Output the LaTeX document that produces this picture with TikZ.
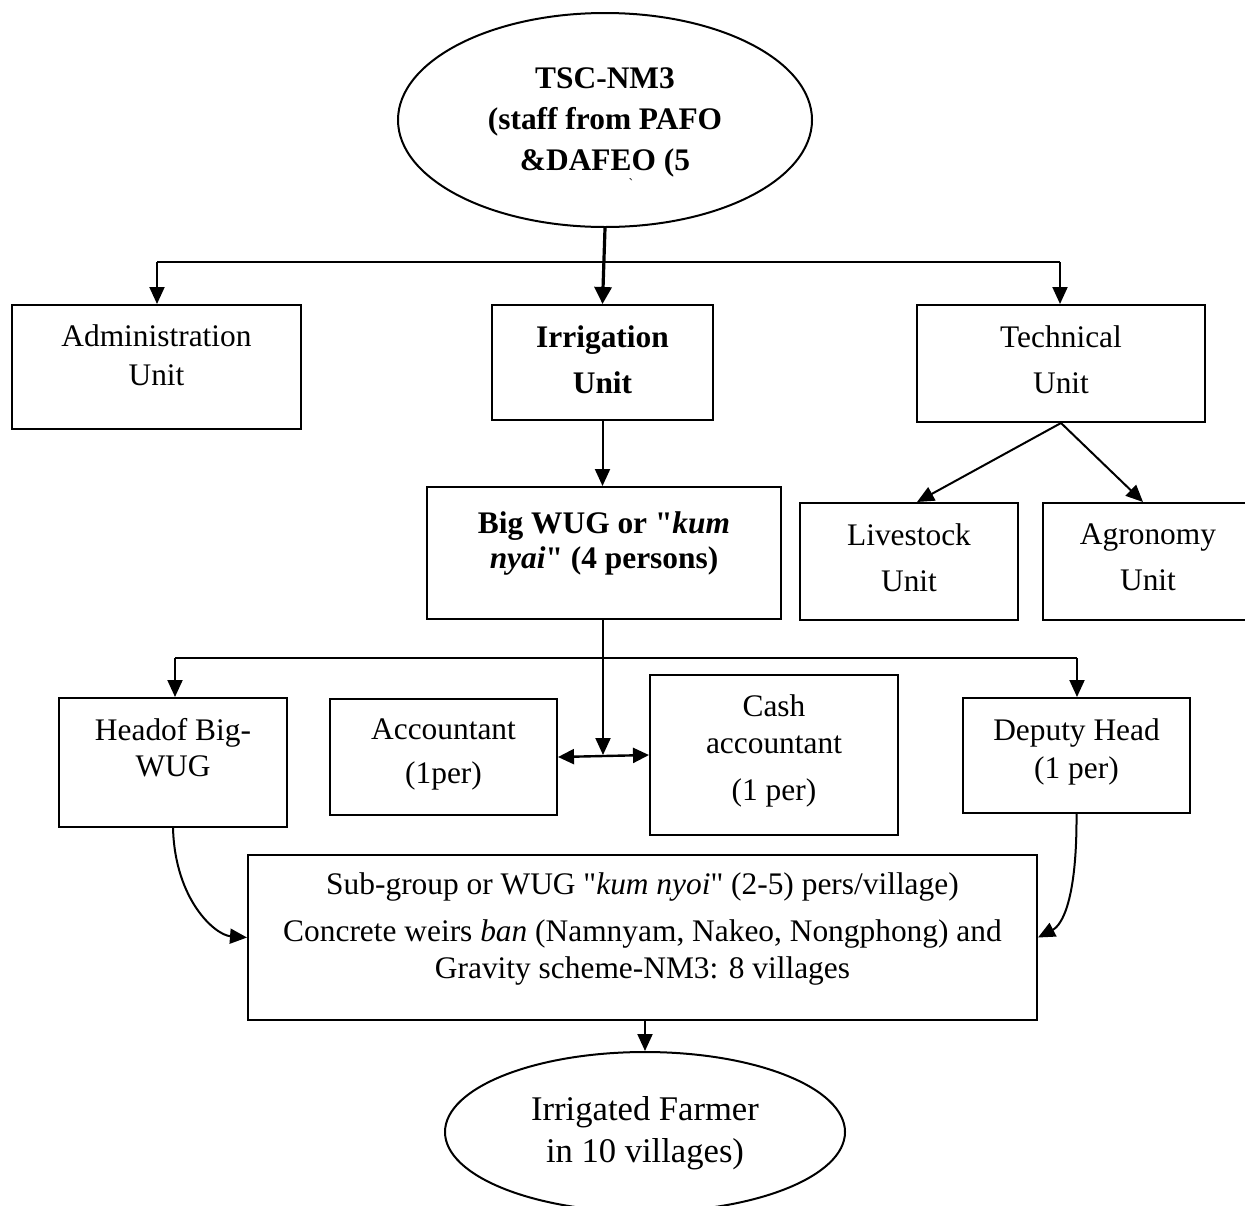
\documentclass[tikz,border=0pt]{standalone}
\usepackage{fontspec}
\setmainfont{Liberation Serif}[Ligatures=TeXOff]
\usetikzlibrary{shapes.geometric,arrows.meta,calc}
\newcommand\fsz[1]{\fontsize{15.7}{#1}\selectfont}
\newcommand\dq{\symbol{34}}
\begin{document}
\begin{tikzpicture}[
  x=0.5pt, y=-0.5pt,
  box/.style={draw, line width=1pt, inner sep=0pt, rectangle},
  oval/.style={draw, line width=1pt, inner sep=0pt, ellipse},
  txt/.style={align=center, inner sep=0pt},
  link/.style={line width=1pt},
  arr/.style={line width=1pt, -{Triangle[length=8.5pt,width=7.5pt]}},
  thickarr/.style={line width=1.6pt, -{Triangle[length=8.5pt,width=8.5pt]}},
  darr/.style={line width=1.2pt, {Triangle[length=8pt,width=7.5pt]}-{Triangle[length=8pt,width=7.5pt]}}
]
\useasboundingbox (0,0) rectangle (1245,1205);

% top ellipse
\node[oval, minimum width=207pt, minimum height=107pt,
  label={[txt, font=\fsz{20.5}\bfseries, yshift=-1pt]center:{TSC-NM3\\(staff from PAFO\\\&DAFEO (5}}]
  (tsc) at (605,120) {};
\node[inner sep=0pt, font=\fontsize{7}{8}\selectfont] (tick) at (631,184) {\symbol{96}};

% first level
\node[box, minimum width=144.5pt, minimum height=62pt,
  label={[txt, font=\fsz{19.5}, yshift=6pt]center:{Administration\\Unit}}]
  (admin) at (156.5,367) {};
\node[box, minimum width=110.5pt, minimum height=57.5pt,
  label={[txt, font=\fsz{23}\bfseries, yshift=1.5pt]center:{Irrigation\\Unit}}]
  (irrig) at (602.5,362.5) {};
\node[box, minimum width=144pt, minimum height=58.5pt,
  label={[txt, font=\fsz{23}, yshift=2pt]center:{Technical\\Unit}}]
  (tech) at (1061,363.5) {};

% second level
\node[box, minimum width=177pt, minimum height=66pt,
  label={[txt, font=\fsz{17.5}\bfseries, yshift=5pt]center:{Big WUG or \dq\textit{kum}\\\textit{nyai}\dq\ (4 persons)}}]
  (bigwug) at (604,553) {};
\node[box, minimum width=109pt, minimum height=58.5pt,
  label={[txt, font=\fsz{23}, yshift=2pt]center:{Livestock\\Unit}}]
  (live) at (909,561.5) {};
\node[box, minimum width=105pt, minimum height=58.5pt,
  label={[txt, font=\fsz{23}, yshift=2pt]center:{Agronomy\\Unit}}]
  (agro) at (1148,561.5) {};

% third level
\node[box, minimum width=114pt, minimum height=64.5pt,
  label={[txt, font=\fsz{18}, yshift=7.5pt]center:{Headof Big-\\WUG}}]
  (head) at (173,762.5) {};
\node[box, minimum width=113.5pt, minimum height=58pt,
  label={[txt, font=\fsz{22}, yshift=1.5pt]center:{Accountant\\(1per)}}]
  (acct) at (443.5,757) {};
\node[box, minimum width=124pt, minimum height=80pt,
  label={[txt, font=\fsz{18.5}, yshift=2pt]center:{Cash\\accountant\\[5pt](1 per)}}]
  (cash) at (774,755) {};
\node[box, minimum width=113.5pt, minimum height=57.5pt,
  label={[txt, font=\fsz{19}, yshift=2pt]center:{Deputy Head\\(1 per)}}]
  (deputy) at (1076.5,755.5) {};

% sub-group
\node[box, minimum width=394.5pt, minimum height=82.5pt,
  label={[txt, font=\fsz{18.5}, yshift=4.5pt]center:{Sub-group or WUG \dq\textit{kum nyoi}\dq\ (2-5) pers/village)\\[5pt]Concrete weirs \textit{ban} (Namnyam, Nakeo, Nongphong) and\\Gravity scheme-NM3: 8 villages}}]
  (sub) at (642.5,937.5) {};

% bottom ellipse
\node[oval, minimum width=200pt, minimum height=80pt,
  label={[txt, font=\fontsize{17.3}{21}\selectfont, yshift=-0.5pt]center:{Irrigated Farmer\\in 10 villages)}}]
  (farm) at (645,1132) {};

% connectors
\draw[thickarr] (tsc.south) -- (irrig.north);
\coordinate (bL) at (157,262);
\coordinate (bR) at (1060,262);
\draw[link] (bL) -- (bR);
\draw[arr] (bL) -- (bL |- admin.north);
\draw[arr] (bR) -- (bR |- tech.north);

\draw[arr] (irrig.south) -- (irrig.south |- bigwug.north);
\draw[arr] (tech.south) -- ([xshift=4pt]live.north);
\draw[arr] (tech.south) -- ([xshift=-2.5pt]agro.north);

\coordinate (dm) at (603,755);
\draw[arr] (bigwug.south -| dm) -- (dm);
\draw[darr] (acct.east) -- (cash.west);

\coordinate (cL) at (175,658);
\coordinate (cR) at (1077,658);
\draw[link] (cL) -- (cR);
\draw[arr] (cL) -- (cL |- head.north);
\draw[arr] (cR) -- (cR |- deputy.north);

\draw[arr] (head.south) .. controls (175,900) and (215,935) .. (sub.west);
\draw[arr] (deputy.south) .. controls (1077,900) and (1062,925) .. (sub.east);

\draw[arr] (sub.south -| farm.north) -- (farm.north);
\end{tikzpicture}
\end{document}
